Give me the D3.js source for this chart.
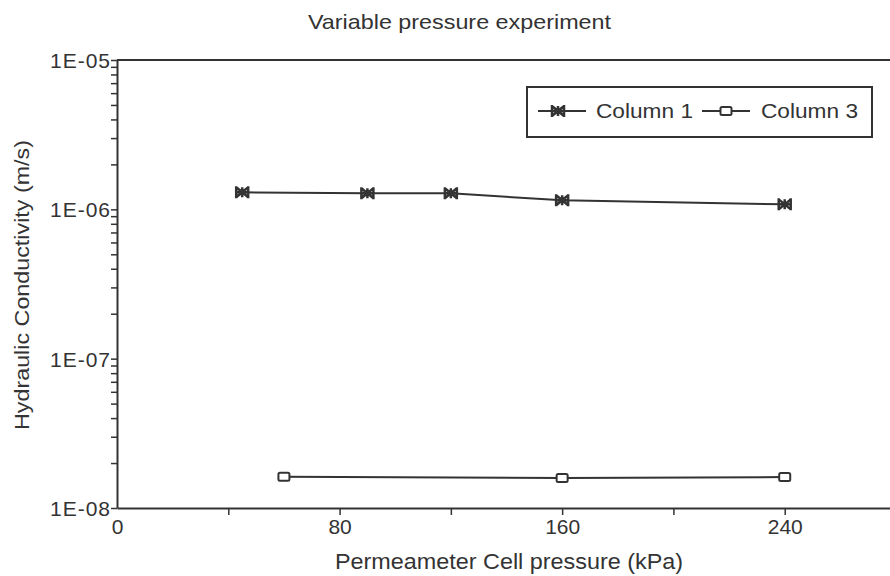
<!DOCTYPE html>
<html lang="en">
<head>
<meta charset="UTF-8">
<title>Variable pressure experiment</title>
<script src="https://d3js.org/d3.v7.min.js"></script>
<style>
    body { margin: 0; background: #fff; }
    svg { font-family: "Liberation Sans", Arial, sans-serif; }
</style>
</head>
<body>
<div id="chart"></div>
<script>
    const col1Pressure = [45, 90, 120, 160, 240];
    const col1K = [1.30e-6, 1.28e-6, 1.28e-6, 1.15e-6, 1.08e-6];
    const col3Pressure = [60, 160, 240];
    const col3K = [1.62e-8, 1.59e-8, 1.61e-8];
    const xTicks = [0, 80, 160, 240];
    const xMinorTicks = [40, 120, 200];
    const yTicks = [1e-8, 1e-7, 1e-6, 1e-5];
    const seriesNames = ["Column 1", "Column 3"];

    const width = 890, height = 576;
    const plotLeft = 117, plotTop = 60, plotBottom = 508, plotRight = 896;
    const ink = "#333";

    const svg = d3.select("#chart").append("svg")
        .attr("width", width).attr("height", height);

    const x = d3.scaleLinear().domain([0, 280]).range([plotLeft, plotRight]);
    const y = d3.scaleLog().domain([1e-8, 1e-5]).range([plotBottom, plotTop]);

    // top frame line
    svg.append("line")
        .attr("x1", plotLeft).attr("x2", plotRight).attr("y1", plotTop).attr("y2", plotTop)
        .attr("stroke", ink).attr("stroke-width", 2);

    // x axis
    const xAxis = svg.append("g").attr("transform", `translate(0,${plotBottom})`)
        .call(d3.axisBottom(x).tickValues(xTicks.concat(xMinorTicks))
            .tickFormat(d => xTicks.includes(d) ? d : "")
            .tickSize(7).tickSizeOuter(0));
    xAxis.select(".domain").attr("stroke", ink).attr("stroke-width", 2);
    xAxis.selectAll(".tick line").attr("stroke", ink).attr("stroke-width", 1.5);
    xAxis.selectAll(".tick text").attr("font-size", 21).attr("fill", ink).attr("y", 10).attr("dy", "0.75em");
    xAxis.selectAll(".tick").filter(d => d === 0).select("line").remove();

    // y axis with log minor ticks
    const minor = [];
    for (let e = -8; e < -5; e++) for (let m = 2; m <= 9; m++) minor.push(m * Math.pow(10, e));
    const yAxis = svg.append("g").attr("transform", `translate(${plotLeft},0)`)
        .call(d3.axisLeft(y).tickValues(yTicks.concat(minor))
            .tickFormat(d => yTicks.includes(d) ? "1E-0" + Math.round(-Math.log10(d)) : "")
            .tickSize(6).tickSizeOuter(0));
    yAxis.select(".domain").attr("stroke", ink).attr("stroke-width", 2);
    yAxis.selectAll(".tick line").attr("stroke", ink).attr("stroke-width", 1.5);
    yAxis.selectAll(".tick text").attr("font-size", 21).attr("fill", ink)
        .attr("x", -6).attr("dy", "0.36em").attr("letter-spacing", 1);

    // lines
    const line = d3.line().x(d => x(d[0])).y(d => y(d[1]));
    const s1 = col1Pressure.map((p, i) => [p, col1K[i]]);
    const s3 = col3Pressure.map((p, i) => [p, col3K[i]]);
    [s1, s3].forEach(s => {
        svg.append("path").datum(s).attr("d", line)
            .attr("fill", "none").attr("stroke", ink).attr("stroke-width", 2);
    });

    function star(g, cx, cy) {
        g.append("path")
            .attr("d", `M${cx - 6},${cy - 5}L${cx + 6},${cy + 5}M${cx - 6},${cy + 5}L${cx + 6},${cy - 5}` +
                `M${cx - 6},${cy - 6}V${cy + 6}M${cx + 6},${cy - 6}V${cy + 6}M${cx - 6},${cy}H${cx + 6}M${cx},${cy - 5}V${cy + 5}`)
            .attr("stroke", ink).attr("stroke-width", 2.5).attr("fill", "none");
    }
    function square(g, cx, cy) {
        g.append("rect").attr("x", cx - 5.5).attr("y", cy - 4).attr("width", 11).attr("height", 8)
            .attr("rx", 1.5).attr("fill", "#fff").attr("stroke", ink).attr("stroke-width", 2);
    }
    const marks = svg.append("g");
    s1.forEach(d => star(marks, x(d[0]), y(d[1])));
    s3.forEach(d => square(marks, x(d[0]), y(d[1])));

    // legend
    const lg = svg.append("g");
    lg.append("rect").attr("x", 527).attr("y", 87).attr("width", 345).attr("height", 50)
        .attr("fill", "#fff").attr("stroke", ink).attr("stroke-width", 2);
    lg.append("line").attr("x1", 538).attr("x2", 586).attr("y1", 111).attr("y2", 111)
        .attr("stroke", ink).attr("stroke-width", 2);
    star(lg, 558, 111);
    lg.append("text").attr("x", 596).attr("y", 118).attr("font-size", 20).attr("fill", ink)
        .attr("textLength", 97).attr("lengthAdjust", "spacingAndGlyphs").text(seriesNames[0]);
    lg.append("line").attr("x1", 702).attr("x2", 750).attr("y1", 111).attr("y2", 111)
        .attr("stroke", ink).attr("stroke-width", 2);
    square(lg, 726, 111);
    lg.append("text").attr("x", 761).attr("y", 118).attr("font-size", 20).attr("fill", ink)
        .attr("textLength", 97).attr("lengthAdjust", "spacingAndGlyphs").text(seriesNames[1]);

    // titles
    svg.append("text").attr("x", 308).attr("y", 29)
        .attr("font-size", 21).attr("fill", ink)
        .attr("textLength", 303).attr("lengthAdjust", "spacingAndGlyphs")
        .text("Variable pressure experiment");
    svg.append("text").attr("x", 335).attr("y", 569)
        .attr("font-size", 22).attr("fill", ink)
        .attr("textLength", 348).attr("lengthAdjust", "spacingAndGlyphs")
        .text("Permeameter Cell pressure (kPa)");
    svg.append("text").attr("transform", "translate(29,430) rotate(-90)")
        .attr("font-size", 21).attr("fill", ink)
        .attr("textLength", 290).attr("lengthAdjust", "spacingAndGlyphs")
        .text("Hydraulic Conductivity (m/s)");
</script>
</body>
</html>
